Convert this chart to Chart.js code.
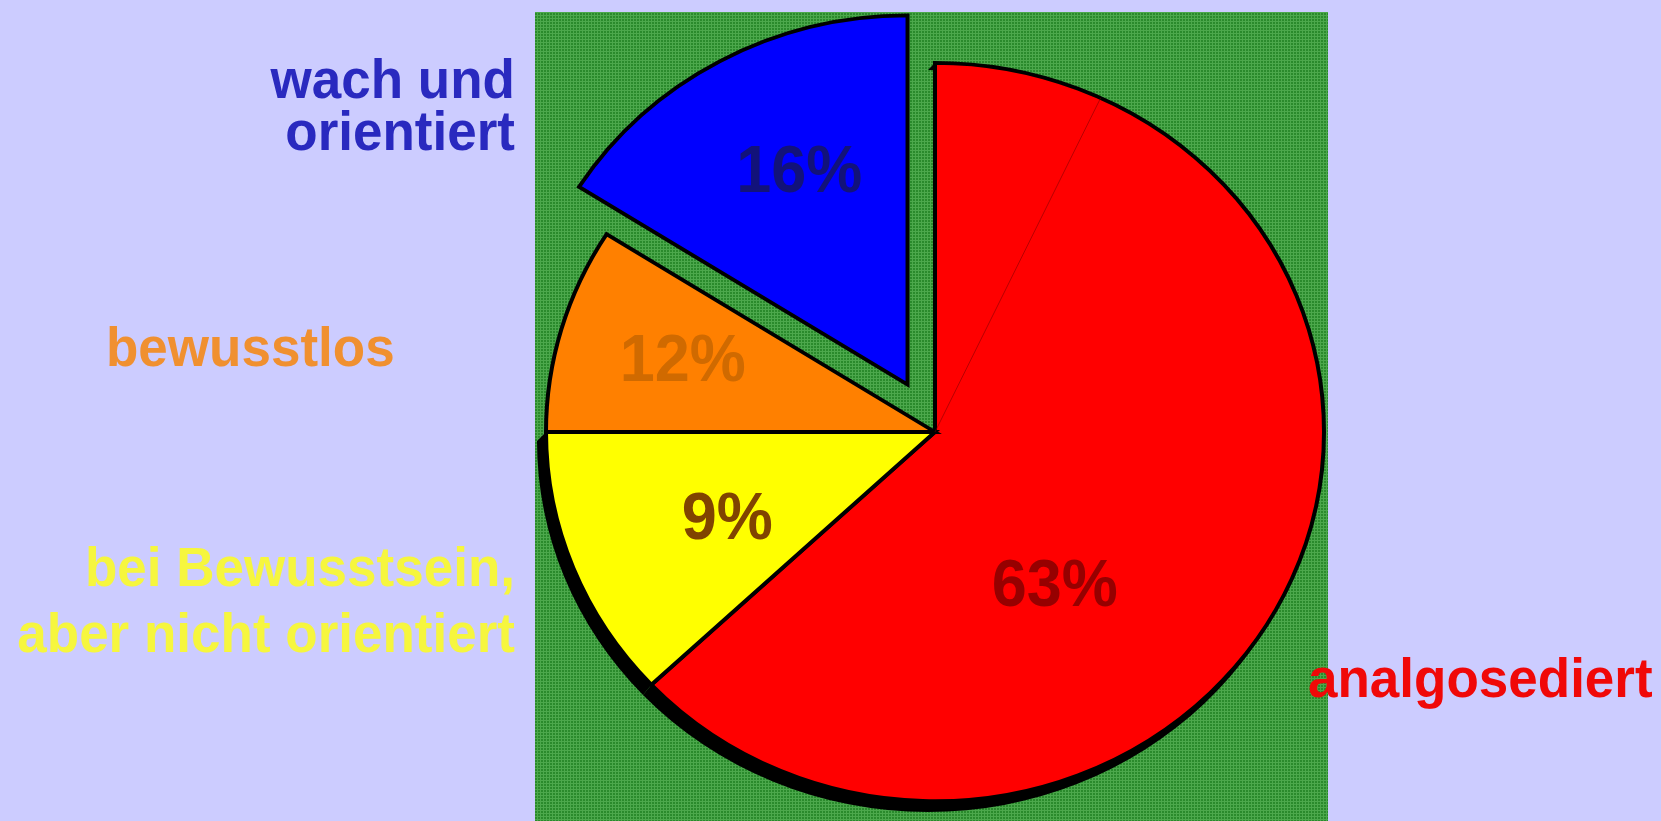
<!DOCTYPE html>
<html lang="de">
<head>
  <meta charset="UTF-8">
  <title>Bewusstseinslage</title>
  <script src="https://cdn.jsdelivr.net/npm/chart.js"></script>
  <style>
    body { margin: 0; background: #ccccff; font-family: "Liberation Sans", Arial, sans-serif; }
    #wrap { position: relative; width: 1661px; height: 821px; overflow: hidden; }
    #pie { position: absolute; left: 0; top: 0; }
    .lbl { position: absolute; font-weight: bold; font-size: 53px; white-space: pre; transform: scaleY(1.05); }
  </style>
</head>
<body>
  <div id="wrap">
    <canvas id="pie" width="1661" height="821"></canvas>
  </div>

  <script>
    // slices, clockwise from 12 o'clock
    const categories = ['analgosediert', 'bei Bewusstsein,\naber nicht orientiert', 'bewusstlos', 'wach und\norientiert'];
    const shares = [63, 12, 9, 16];
    // percentages as they are printed on the slices
    const pctLabels = ['63%', '9%', '12%', '16%'];
    // the red slice is made of two parts (faint line between them)
    const analgoParts = [7, 56];

    const sliceColors = ['#ff0000', '#ffff00', '#ff8000', '#0000ff'];
    const pctColors = ['#960000', '#804400', '#d06a00', '#12127a'];
    const catColors = ['#f00808', '#f6f63e', '#f09030', '#2929bf'];
    const explode = [0, 0, 0, 57];

    const SQUASH = 0.949;           // pie is slightly wider than tall
    const SHADOW = { dx: -7, dy: 9, slices: [0, 1] };
    const labelAlong = [0.63, 0.47, 0.54, 0.56];
    const labelRadius = [0.51, 0.58, 0.68, 0.65];

    // outer category labels (html text), top/line-height before the 1.05 stretch
    const catPos = [
      { left: 1308, top: 649.6, lh: 53 },
      { right: 515, top: 534.7, lh: 62.1 },
      { left: 106, top: 319.1, lh: 53 },
      { right: 515, top: 52.5, lh: 49 }
    ];
    const wrap = document.getElementById('wrap');
    categories.forEach((c, i) => {
      const d = document.createElement('div');
      d.className = 'lbl';
      d.textContent = c;
      d.style.color = catColors[i];
      d.style.top = catPos[i].top + 'px';
      d.style.lineHeight = catPos[i].lh + 'px';
      if (catPos[i].right !== undefined) {
        d.style.right = (1661 - catPos[i].right) + 'px';
        d.style.textAlign = 'right';
        d.style.transformOrigin = 'right top';
      } else {
        d.style.left = catPos[i].left + 'px';
        d.style.transformOrigin = 'left top';
      }
      wrap.appendChild(d);
    });

    // green checkered panel behind the pie
    const tile = document.createElement('canvas');
    tile.width = 3; tile.height = 3;
    const t = tile.getContext('2d');
    t.fillStyle = '#2a8a2c'; t.fillRect(0, 0, 3, 3);
    t.fillStyle = '#4ca84c'; t.fillRect(0, 0, 3, 1); t.fillRect(0, 0, 1, 3);

    const panelPlugin = {
      id: 'panel',
      beforeDraw(chart) {
        const ctx = chart.ctx;
        ctx.save();
        ctx.fillStyle = ctx.createPattern(tile, 'repeat');
        ctx.fillRect(535, 12, 793, 809);
        ctx.restore();
      }
    };

    const shapePlugin = {
      id: 'shape',
      afterDatasetsUpdate(chart) {
        chart.getDatasetMeta(0).data.forEach((arc, i) => {
          if (!explode[i]) return;
          const mid = (arc.startAngle + arc.endAngle) / 2;
          arc.x += Math.cos(mid) * explode[i];
          arc.y += Math.sin(mid) * explode[i];
        });
      },
      beforeDatasetsDraw(chart) {
        const ctx = chart.ctx;
        const arcs = chart.getDatasetMeta(0).data;
        const cx = arcs[0].x, cy = arcs[0].y;
        ctx.save();
        ctx.translate(cx, cy);
        ctx.scale(1, SQUASH);
        ctx.translate(-cx, -cy);
        // drop shadow: band between the shifted rim and the real rim
        ctx.fillStyle = '#000';
        SHADOW.slices.forEach(i => {
          const a = arcs[i];
          const r = a.outerRadius + 2;
          const x = a.x + SHADOW.dx, y = a.y + SHADOW.dy / SQUASH;
          ctx.beginPath();
          ctx.arc(x, y, r, a.startAngle, a.endAngle);
          ctx.arc(a.x, a.y, r - 2, a.endAngle, a.startAngle, true);
          ctx.closePath();
          ctx.fill();
        });
      },
      afterDatasetsDraw(chart) {
        const ctx = chart.ctx;
        const arcs = chart.getDatasetMeta(0).data;
        const red = arcs[0];
        const cx = red.x, cy = red.y;

        // faint split line inside the red slice
        const ang = red.startAngle + (red.endAngle - red.startAngle) * analgoParts[0] / shares[0];
        ctx.strokeStyle = 'rgba(120,0,0,0.55)';
        ctx.lineWidth = 1;
        ctx.beginPath();
        ctx.moveTo(cx, cy);
        ctx.lineTo(cx + Math.cos(ang) * red.outerRadius, cy + Math.sin(ang) * red.outerRadius);
        ctx.stroke();
        ctx.restore();

        // percentages
        ctx.save();
        ctx.font = 'bold 63px "Liberation Sans", Arial, sans-serif';
        ctx.textAlign = 'center';
        ctx.textBaseline = 'alphabetic';
        arcs.forEach((a, i) => {
          const an = a.startAngle + (a.endAngle - a.startAngle) * labelAlong[i];
          const r = a.outerRadius * labelRadius[i];
          const x = a.x + Math.cos(an) * r;
          const y = cy + (a.y - cy + Math.sin(an) * r) * SQUASH;
          ctx.save();
          ctx.translate(x, y + 24);
          ctx.scale(1, 1.06);
          ctx.fillStyle = pctColors[i];
          ctx.fillText(pctLabels[i], 0, 0);
          ctx.restore();
        });
        ctx.restore();
      }
    };

    new Chart(document.getElementById('pie'), {
      type: 'pie',
      data: {
        labels: categories,
        datasets: [{
          data: shares,
          backgroundColor: sliceColors,
          borderColor: '#000',
          borderWidth: 4,
          borderJoinStyle: 'miter',
          radius: 389,
          clip: false
        }]
      },
      options: {
        responsive: false,
        animation: false,
        events: [],
        layout: { padding: { left: 535, right: 326, top: 43, bottom: 0 } },
        plugins: {
          legend: { display: false },
          tooltip: { enabled: false }
        }
      },
      plugins: [panelPlugin, shapePlugin]
    });
  </script>
</body>
</html>
